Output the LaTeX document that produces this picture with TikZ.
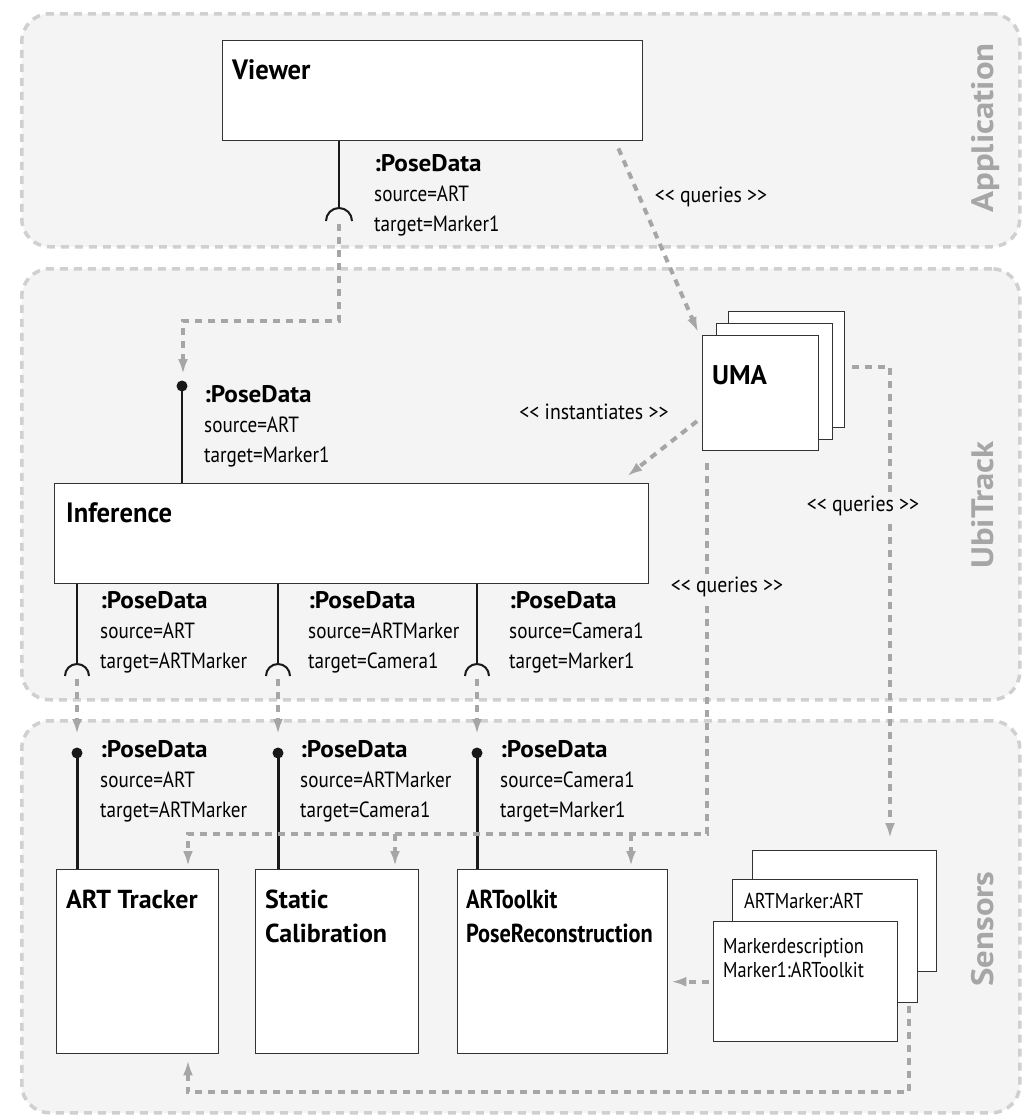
\documentclass[tikz,border=0pt]{standalone}
\usepackage{fontspec}
\setmainfont{PT Sans}
\newfontfamily\rkLblF{PT Sans}[FakeStretch=0.87]
\newfontfamily\rkMkF{PT Sans}[FakeStretch=0.85]
\newfontfamily\rkDepF{PT Sans}[FakeStretch=0.9]
\newfontfamily\rkPDF{PT Sans}[FakeStretch=1.05]
\newfontfamily\rkBigF{PT Sans}[FakeStretch=0.95]
\newfontfamily\rkNarF{PT Sans}[FakeStretch=0.86]
\newfontfamily\rkPanF{PT Sans}[FakeStretch=1.12]
\usetikzlibrary{arrows.meta,calc}
\definecolor{panelfill}{HTML}{F3F4F3}
\definecolor{panelline}{HTML}{D0D0D0}
\definecolor{depcol}{HTML}{A6A6A6}
\definecolor{boxline}{HTML}{333333}
\definecolor{paneltext}{HTML}{A6A6A6}
\newcommand\rkLblFont{\rkLblF\fontsize{22}{26}\selectfont}
\newcommand\rkMkFont{\rkMkF\fontsize{21.5}{26}\selectfont}
\newcommand\rkDepFont{\rkDepF\fontsize{22}{26}\selectfont}
\newcommand\rkPDFont{\rkPDF\bfseries\fontsize{24}{28}\selectfont}
\newcommand\rkBigFont{\rkBigF\bfseries\fontsize{28}{32}\selectfont}
\newcommand\rkSenFont{\bfseries\fontsize{26}{30}\selectfont}
\newcommand\rkNarFont{\rkNarF\bfseries\fontsize{26}{30}\selectfont}
\newcommand\rkPanelFont{\rkPanF\bfseries\fontsize{31}{34}\selectfont}
\newcommand\rkPD[5]{%
  \node[pdb] (#1a) at (#2,#3) {:PoseData};
  \node[pdl] (#1b) at (#2,#3+30) {#4};
  \node[pdl] (#1c) at (#2,#3+60) {#5};
}
\begin{document}
\begin{tikzpicture}[x=1pt,y=-1pt,
  panel/.style={draw=panelline, fill=panelfill, line width=3.5pt,
    dash pattern=on 8pt off 6pt, rounded corners=28pt, inner sep=0pt},
  plabel/.style={font=\rkPanelFont, text=paneltext, rotate=90, anchor=base, inner sep=0pt},
  box/.style={draw=boxline, fill=white, line width=1.4pt, inner sep=0pt, anchor=north west},
  bigtitle/.style={font=\rkBigFont, inner sep=0pt, anchor=base west},
  sentitle/.style={font=\rkSenFont, inner sep=0pt, anchor=base west},
  nartitle/.style={font=\rkNarFont, inner sep=0pt, anchor=base west},
  txt/.style={font=\rkMkFont, inner sep=0pt, anchor=base west},
  pdb/.style={font=\rkPDFont, inner sep=0pt, anchor=base west},
  pdl/.style={font=\rkLblFont, inner sep=0pt, anchor=base west},
  deplbl/.style={font=\rkDepFont, inner sep=3pt},
  dep/.style={draw=depcol, line width=4pt, dash pattern=on 7pt off 6pt,
    -{Latex[length=15pt,width=10pt]}},
  lol/.style={draw=black!90, line width=2pt},
  lolthick/.style={draw=black!90, line width=3pt},
]
\fill[white] (0,0) rectangle (1024,1117);
\useasboundingbox (0,0) rectangle (1024,1117);

% panels
\node[panel, minimum width=998pt, minimum height=233pt, anchor=north west] (papp) at (20,12) {};
\node[panel, minimum width=998pt, minimum height=431pt, anchor=north west] (pubi) at (20,267) {};
\node[panel, minimum width=998pt, minimum height=392pt, anchor=north west] (psen) at (20,719) {};
\node[plabel] (lapp) at (993,128) {Application};
\node[plabel] (lubi) at (993,505) {UbiTrack};
\node[plabel] (lsen) at (993,929) {Sensors};

% boxes
\node[box, minimum width=420pt, minimum height=100pt] (viewer) at (222,40) {};
\node[bigtitle] (viewerT) at (232,79) {Viewer};
\node[box, minimum width=594pt, minimum height=100pt] (inf) at (54,483) {};
\node[bigtitle] (infT) at (66,522) {Inference};
\node[box, minimum width=162pt, minimum height=184pt] (art) at (56,869) {};
\node[sentitle] (artT) at (66,908) {ART Tracker};
\node[box, minimum width=163pt, minimum height=184pt] (stat) at (255,869) {};
\node[sentitle] (statT1) at (265,908) {Static};
\node[sentitle] (statT2) at (265,942) {Calibration};
\node[box, minimum width=210pt, minimum height=184pt] (artk) at (457,869) {};
\node[nartitle] (artkT1) at (466,908) {ARToolkit};
\node[nartitle] (artkT2) at (466,942) {PoseReconstruction};

% UMA stack
\node[box, minimum width=116pt, minimum height=116pt] (umaB) at (728,311) {};
\node[box, minimum width=116pt, minimum height=116pt] (umaM) at (716,323) {};
\node[box, minimum width=116pt, minimum height=115pt] (umaF) at (702,335) {};
\node[font=\bfseries\fontsize{27}{30}\selectfont, inner sep=0pt, anchor=base west] (umaT) at (712,384) {UMA};

% marker stack
\node[box, minimum width=184pt, minimum height=121pt] (mkB) at (752,850) {};
\node[box, minimum width=185pt, minimum height=123pt] (mkM) at (732,879) {};
\node[box, minimum width=184pt, minimum height=120pt] (mkF) at (713,921) {};
\node[txt] (mkMT) at (744,908) {ARTMarker:ART};
\node[txt] (mkFT1) at (723,953) {Markerdescription};
\node[txt] (mkFT2) at (723,977) {Marker1:ARToolkit};

% Viewer required interface
\coordinate (vsock) at (339,208);
\draw[lol] (viewer.south -| vsock) -- (vsock);
\draw[lol] ($(vsock)+(-13,13)$) arc[start angle=180, end angle=360, radius=13];
% Inference provided interface (top)
\coordinate (iball) at (182,386);
\draw[lol] (iball) -- (inf.north -| iball);
\fill[black!90] (iball) circle[radius=5.5];
\draw[dep] ($(vsock)+(0,16)$) |- ($(iball)+(1,-65)$) -- ($(iball)+(1,-12)$);

% Inference required interfaces (bottom) and sensor provided ones
\foreach \n/\xx in {a/77, b/278, c/477}{
  \coordinate (is\n) at (\xx,664);
  \coordinate (sb\n) at (\xx,753);
  \draw[lol] (inf.south -| is\n) -- (is\n);
  \draw[lol] ($(is\n)+(-12,12)$) arc[start angle=180, end angle=360, radius=12];
  \draw[dep] ($(is\n)+(0,15)$) -- ($(sb\n)+(0,-19)$);
  \draw[lolthick] (sb\n) -- (art.north -| sb\n);
  \fill[black!90] (sb\n) circle[radius=5.5];
}

% PoseData labels
\rkPD{pv}{374}{171}{source=ART}{target=Marker1}
\rkPD{pi}{204}{402}{source=ART}{target=Marker1}
\rkPD{pa}{100}{608}{source=ART}{target=ARTMarker}
\rkPD{pb}{308}{608}{source=ARTMarker}{target=Camera1}
\rkPD{pc}{509}{608}{source=Camera1}{target=Marker1}
\rkPD{sa}{100}{757}{source=ART}{target=ARTMarker}
\rkPD{sb}{300}{757}{source=ARTMarker}{target=Camera1}
\rkPD{sc}{500}{757}{source=Camera1}{target=Marker1}

% dependencies
\draw[dep] ($(viewer.south east)+(-25,7)$) -- ($(umaF.north west)+(-4,-3)$);
\draw[dep] ($(umaF.west)+(-5,28)$) -- ($(inf.north east)+(-22,-7)$);
\coordinate (artIn) at ($(art.north west)+(132,-3)$);
\coordinate (statIn) at ($(stat.north west)+(140,-3)$);
\coordinate (artkIn) at ($(artk.north west)+(174,-3)$);
\draw[dep] ($(umaF.south west)+(5,12)$) |- ($(artIn)+(0,-32)$) -- (artIn);
\draw[dep] ($(statIn)+(0,-32)$) -- (statIn);
\draw[dep] ($(artkIn)+(0,-32)$) -- (artkIn);
\draw[dep] ($(umaB.east)+(7,-3)$) -| ($(mkB.north west)+(138,-12)$);
\draw[dep] ($(mkF.west)+(-4,0)$) -- ($(artk.east |- mkF.west)+(3,0)$);
\draw[dep] ($(mkM.south east)+(-9,3)$) |- ($(art.south west)+(132,38)$) -- ($(art.south west)+(132,6)$);

% dependency labels
\node[deplbl] (q1) at (711,197) {<< queries >>};
\node[deplbl] (inst) at (594,412) {<< instantiates >>};
\node[deplbl, fill=panelfill] (q2) at (727,587) {<< queries >>};
\node[deplbl, fill=panelfill] (q3) at (863,506) {<< queries >>};
\end{tikzpicture}
\end{document}
